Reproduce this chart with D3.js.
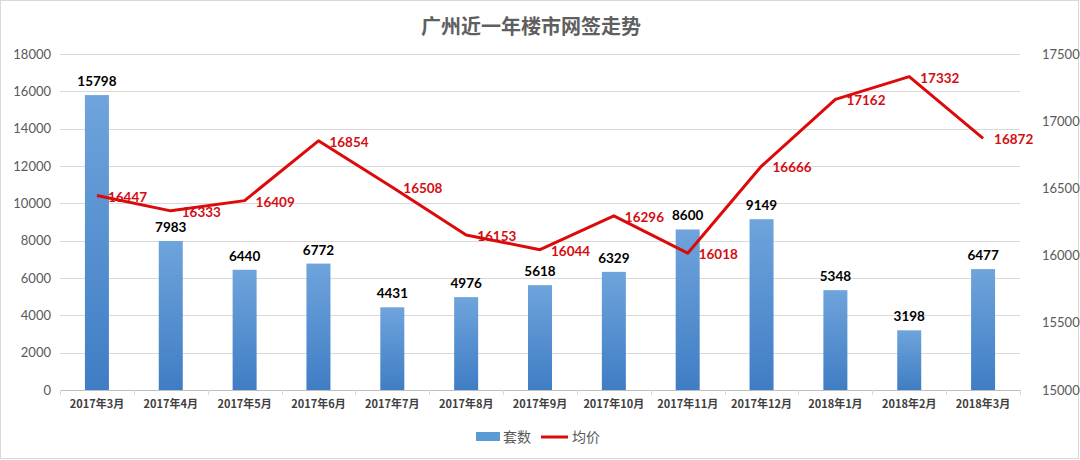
<!DOCTYPE html>
<html><head><meta charset="utf-8">
<script src="https://cdn.jsdelivr.net/npm/d3@7"></script>
<style>
body{margin:0;background:#fff;}
svg{display:block;}
</style></head>
<body><svg id="c" width="1080" height="460"></svg>
<script>
const categories = ["2017年3月","2017年4月","2017年5月","2017年6月","2017年7月","2017年8月","2017年9月","2017年10月","2017年11月","2017年12月","2018年1月","2018年2月","2018年3月"];
const units = [15798,7983,6440,6772,4431,4976,5618,6329,8600,9149,5348,3198,6477];
const prices = [16447,16333,16409,16854,16508,16153,16044,16296,16018,16666,17162,17332,16872];
const leftTicks = [0,2000,4000,6000,8000,10000,12000,14000,16000,18000];
const rightTicks = [15000,15500,16000,16500,17000,17500];
const title = "广州近一年楼市网签走势";
const legendLabels = ["套数","均价"];

const svg = d3.select("#c");
const L = 60, R = 1020, T = 54, B = 390;
const x = d3.scaleBand().domain(categories).range([L, R]);
const yL = d3.scaleLinear().domain([0, 18000]).range([B, T]);
const yR = d3.scaleLinear().domain([15000, 17500]).range([B, T]);

svg.append("rect").attr("x",0.5).attr("y",0.5).attr("width",1078).attr("height",458)
  .attr("fill","#fff").attr("stroke","#d9d9d9");

const defs = svg.append("defs");
const g = defs.append("linearGradient").attr("id","bg").attr("x1",0).attr("y1",0).attr("x2",0).attr("y2",1);
g.append("stop").attr("offset","0%").attr("stop-color","#6fa4dc");
g.append("stop").attr("offset","100%").attr("stop-color","#3f7dc4");

svg.append("text").attr("x",531).attr("y",34).attr("text-anchor","middle")
  .attr("font-family","Noto Sans CJK SC").attr("font-size",20).attr("font-weight","bold")
  .attr("fill","#5f5f5f").text(title);

// gridlines
svg.append("g").selectAll("line").data(leftTicks).join("line")
  .attr("x1",L).attr("x2",R).attr("y1",d=>Math.round(yL(d))+0.5).attr("y2",d=>Math.round(yL(d))+0.5)
  .attr("stroke",d=>d===0?"#bfbfbf":"#d9d9d9").attr("stroke-width",1);

// left axis
const axL = svg.append("g").attr("transform",`translate(${L},0)`)
  .call(d3.axisLeft(yL).tickValues(leftTicks).tickSize(0).tickPadding(9).tickFormat(d3.format("d")));
axL.select(".domain").remove();
axL.selectAll("text").attr("font-family","Lato").attr("font-size",13).attr("fill","#595959");

// right axis
const axR = svg.append("g").attr("transform",`translate(${R},0)`)
  .call(d3.axisRight(yR).tickValues(rightTicks).tickSize(0).tickPadding(22).tickFormat(d3.format("d")));
axR.select(".domain").remove();
axR.selectAll("text").attr("font-family","Lato").attr("font-size",13).attr("fill","#595959");

// x axis
const axX = svg.append("g").attr("transform",`translate(0,${B})`)
  .call(d3.axisBottom(x).tickSize(0).tickPadding(10));
axX.select(".domain").remove();
axX.selectAll("text").attr("font-family","Noto Sans CJK SC").attr("font-size",11).attr("font-weight","bold").attr("fill","#404040");
svg.append("g").selectAll("line").data(d3.range(categories.length+1)).join("line")
  .attr("x1",i=>Math.round(L+i*x.step())+0.5).attr("x2",i=>Math.round(L+i*x.step())+0.5)
  .attr("y1",B).attr("y2",B+5).attr("stroke","#d9d9d9");

// bars
const bw = 24;
svg.append("g").selectAll("rect").data(units).join("rect")
  .attr("x",(d,i)=>x(categories[i])+x.bandwidth()/2-bw/2).attr("width",bw)
  .attr("y",d=>yL(d)).attr("height",d=>B-yL(d)).attr("fill","url(#bg)");
svg.append("g").selectAll("text").data(units).join("text")
  .attr("x",(d,i)=>x(categories[i])+x.bandwidth()/2).attr("y",d=>yL(d)-9)
  .attr("text-anchor","middle").attr("font-family","Lato").attr("font-weight","bold")
  .attr("font-size",13.5).attr("fill","#000").text(d=>d);

// line
const line = d3.line().x((d,i)=>x(categories[i])+x.bandwidth()/2).y(d=>yR(d));
svg.append("path").datum(prices).attr("d",line).attr("fill","none")
  .attr("stroke","#dc0a0a").attr("stroke-width",3).attr("stroke-linejoin","round");
svg.append("g").selectAll("text").data(prices).join("text")
  .attr("x",(d,i)=>x(categories[i])+x.bandwidth()/2+11).attr("y",d=>yR(d)+6)
  .attr("font-family","Lato").attr("font-weight","bold")
  .attr("font-size",13.5).attr("fill","#d40d12").text(d=>d);

// legend
const lg = svg.append("g").attr("font-family","Noto Sans CJK SC").attr("font-size",14).attr("fill","#595959");
lg.append("rect").attr("x",476).attr("y",432).attr("width",24).attr("height",9).attr("fill","#5b9bd5");
lg.append("text").attr("x",503).attr("y",442).text(legendLabels[0]);
lg.append("line").attr("x1",541).attr("x2",568).attr("y1",437).attr("y2",437).attr("stroke","#dc0a0a").attr("stroke-width",3);
lg.append("text").attr("x",572).attr("y",442).text(legendLabels[1]);
</script></body></html>
